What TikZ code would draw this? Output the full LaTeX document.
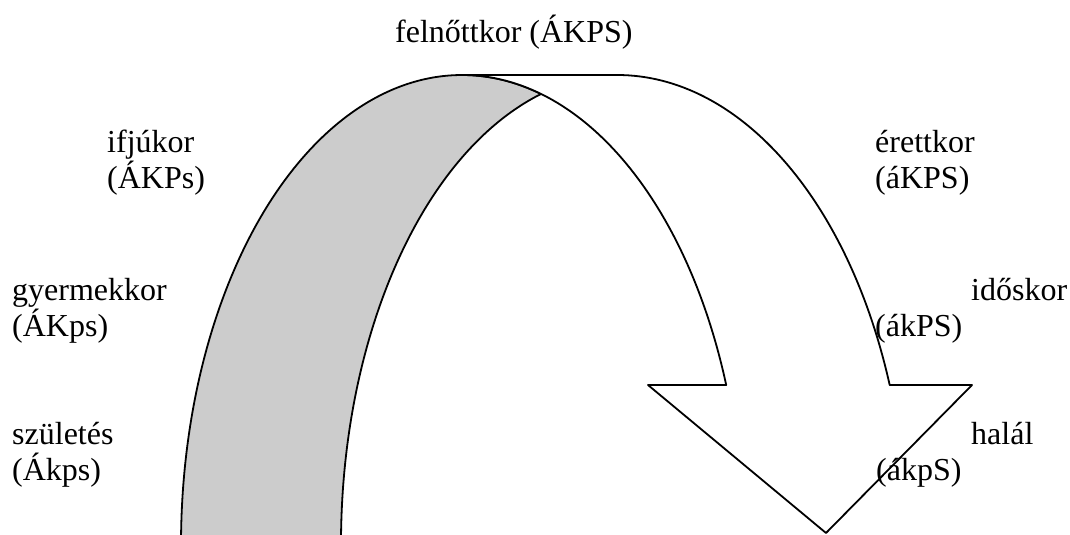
\documentclass[tikz,border=0pt]{standalone}
\usepackage{fontspec}
\setmainfont{Liberation Serif}
\begin{document}
\begin{tikzpicture}[x=1pt,y=1pt,
  band/.style={draw=black,line width=1.8pt,line join=round},
  backband/.style={band,fill={rgb,255:red,204;green,204;blue,204}},
  frontband/.style={band,fill=white},
  lbl/.style={inner sep=0pt,anchor=base west,font=\fontsize{32}{36}\selectfont}]
\useasboundingbox (0,0) rectangle (1070,535);
% key points
\coordinate (bl) at (181,-10);
\coordinate (apexL) at (462,460);
\coordinate (apexR) at (617,460);
\coordinate (notchR) at (889.7,150);
\coordinate (cornerR) at (972,150);
\coordinate (tip) at (826,2);
\coordinate (cornerL) at (648,150);
\coordinate (notchL) at (726.2,150);
% back (gray) part (its bottom edge lies below the page)
\path[backband] (bl)
  arc[start angle=180, end angle=73.67, x radius=281pt, y radius=470pt]
  arc[start angle=106.6, end angle=180, x radius=280pt, y radius=470pt]
  -- cycle;
% front (white) part with arrow head
\path[frontband] (apexL) -- (apexR)
  arc[start angle=90, end angle=19.9, x radius=290pt, y radius=470pt]
  -- (cornerR) -- (tip) -- (cornerL) -- (notchL)
  arc[start angle=19.9, end angle=90, x radius=281pt, y radius=470pt]
  -- cycle;
% labels
\node[lbl] (t1) at (395,492) {felnőttkor (ÁKPS)};
\node[lbl] (l1a) at (107,382) {ifjúkor};
\node[lbl] (l1b) at (107,346) {(ÁKPs)};
\node[lbl] (l2a) at (12,234) {gyermekkor};
\node[lbl] (l2b) at (12,198) {(ÁKps)};
\node[lbl] (l3a) at (12,90) {születés};
\node[lbl] (l3b) at (12,54) {(Ákps)};
\node[lbl] (r1a) at (875,382) {érettkor};
\node[lbl] (r1b) at (875,346) {(áKPS)};
\node[lbl] (r2a) at (971,234) {időskor};
\node[lbl] (r2b) at (875,198) {(ákPS)};
\node[lbl] (r3a) at (971,90) {halál};
\node[lbl] (r3b) at (876,54) {(ákpS)};
\end{tikzpicture}
\end{document}
